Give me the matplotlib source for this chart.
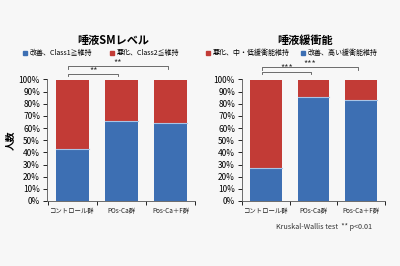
import matplotlib
matplotlib.use("Agg")
import matplotlib.pyplot as plt

plt.rcParams['font.family'] = ['Noto Sans CJK JP', 'DejaVu Sans']

groups = ['コントロール群', 'POs-Ca群', 'Pos-Ca＋F群']

# left panel: salivary SM level
sm_title = '唾液SMレベル'
sm_good = [43, 66, 64]
sm_bad = [57, 34, 36]
sm_good_label = '改善、Class1≧維持'
sm_bad_label = '悪化、Class2≦維持'
sm_sig = [(0, 1, '**'), (0, 2, '**')]

# right panel: salivary buffering capacity
buf_title = '唾液緩衝能'
buf_good = [27, 86, 83]
buf_bad = [73, 14, 17]
buf_bad_label = '悪化、中・低緩衝能維持'
buf_good_label = '改善、高い緩衝能維持'
buf_sig = [(0, 1, '***'), (0, 2, '***')]

yticks = list(range(0, 101, 10))
note = 'Kruskal-Wallis test  ** p<0.01'

blue = '#3d6fb3'
red = '#c23b36'
bg = '#f7f7f7'

W, H = 400, 266
fig = plt.figure(figsize=(4, 2.66), dpi=100, facecolor=bg)


def px_axes(x0, x1, ytop, ybot):
    return fig.add_axes([x0 / W, 1 - ybot / H, (x1 - x0) / W, (ybot - ytop) / H])


def draw(ax, good, bad, sig, xlim, levels):
    x = range(len(groups))
    ax.set_facecolor(bg)
    ax.bar(x, good, width=0.67, color=blue, edgecolor='none')
    ax.bar(x, bad, bottom=good, width=0.67, color=red, edgecolor='none')
    for xi, g in zip(x, good):
        ax.plot([xi - 0.335, xi + 0.335], [g, g], color='#a9c4e6', lw=0.8)
    ax.set_xlim(*xlim)
    ax.set_ylim(0, 100)
    ax.set_yticks(yticks)
    ax.set_yticklabels([f'{t}%' for t in yticks], fontsize=6)
    ax.set_xticks(list(x))
    ax.set_xticklabels(groups, fontsize=4.6, color='#222222')
    ax.set_xticks([-0.5, 0.5, 1.5, 2.5], minor=True)
    ax.tick_params(axis='x', which='major', length=0, pad=4)
    ax.tick_params(axis='x', which='minor', length=3, width=0.6)
    ax.tick_params(axis='y', length=3, width=0.6, pad=2)
    for s in ['top', 'right']:
        ax.spines[s].set_visible(False)
    for s in ['left', 'bottom']:
        ax.spines[s].set_linewidth(0.6)
        ax.spines[s].set_color('#555555')
    for (a, b, star), lv in zip(sig, levels):
        xa, xb = a - 0.08, b - 0.06
        ax.plot([xa, xa, xb, xb], [lv - 2, lv, lv, lv - 2], color='#555555',
                lw=0.6, clip_on=False)
        ax.text((xa + xb) / 2, lv - 0.5, star, ha='center', va='bottom',
                fontsize=6.5, color='#333333', clip_on=False)


ax1 = px_axes(47, 195, 79.5, 201)
draw(ax1, sm_good, sm_bad, sm_sig, (-0.515, 2.475), [104.5, 111])
ax1.set_ylabel('人数', fontsize=7, fontweight='bold', labelpad=2)

ax2 = px_axes(242, 385, 79.5, 201)
draw(ax2, buf_good, buf_bad, buf_sig, (-0.39, 2.49), [106.5, 110])

fig.text(113 / W, 1 - 40 / H, sm_title, ha='center', va='center',
         fontsize=8, fontweight='bold')
fig.text(305 / W, 1 - 40 / H, buf_title, ha='center', va='center',
         fontsize=8, fontweight='bold')


def legend_item(xpx, color, label):
    fig.patches.append(plt.Rectangle((xpx / W, 1 - 55 / H), 3.5 / W, 3.5 / H,
                                     transform=fig.transFigure, color=color))
    fig.text((xpx + 7) / W, 1 - 53 / H, label, ha='left', va='center', fontsize=5)


legend_item(23, blue, sm_good_label)
legend_item(110, red, sm_bad_label)
legend_item(206, red, buf_bad_label)
legend_item(301, blue, buf_good_label)

fig.text(372 / W, 1 - 227 / H, note, ha='right', va='center', fontsize=5.2,
         color='#333333')

fig.savefig('out.png', dpi=100, facecolor=bg)
